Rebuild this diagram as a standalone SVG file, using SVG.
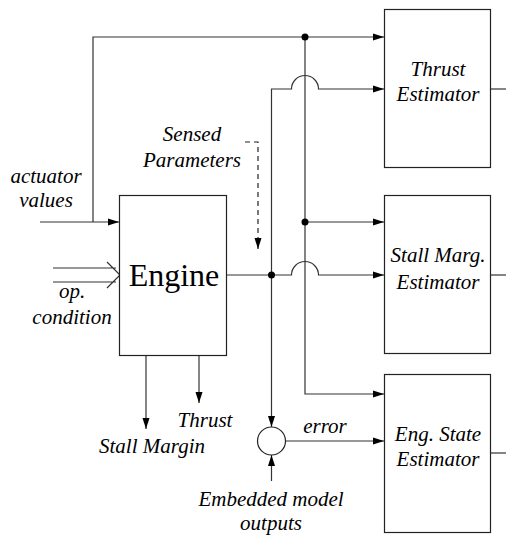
<svg xmlns="http://www.w3.org/2000/svg" width="506" height="536" viewBox="0 0 506 536">
<style>
.box{fill:#fff;stroke:#222;stroke-width:1.2}
.ln{fill:none;stroke:#333;stroke-width:1.2}
.dash{fill:none;stroke:#222;stroke-width:1.2;stroke-dasharray:5,4}
.dot{fill:#000}
.lbl{font-family:"Liberation Serif","Times New Roman",serif;font-style:italic;font-size:21px;fill:#000;text-anchor:middle}
.big{font-family:"Liberation Serif","Times New Roman",serif;font-size:32px;fill:#000;text-anchor:middle}
</style>
<defs>
<marker id="ah" markerUnits="userSpaceOnUse" markerWidth="11" markerHeight="8" refX="11" refY="4" orient="auto">
<path d="M0,0.5 L11,4 L0,7.5 z" fill="#000"/>
</marker>
</defs>
<g id="connectors">
<path class="ln" d="M40 222 H119" marker-end="url(#ah)"/>
<path class="ln" d="M93 222 V37 H384" marker-end="url(#ah)"/>
<path class="ln" d="M305 37 V394 H384" marker-end="url(#ah)"/>
<path class="ln" d="M305 222 H384" marker-end="url(#ah)"/>
<path class="ln" d="M227 275 H291.5 A13.5 13.5 0 0 1 318.5 275 H384" marker-end="url(#ah)"/>
<path class="ln" d="M271.5 275 V89 H291.5 A13.5 13.5 0 0 1 318.5 89 H384" marker-end="url(#ah)"/>
<path class="ln" d="M271.5 275 V427" marker-end="url(#ah)"/>
<path class="ln" d="M271.5 481 V455" marker-end="url(#ah)"/>
<path class="ln" d="M285.5 441 H384" marker-end="url(#ah)"/>
<path class="ln" d="M490 89 H506"/>
<path class="ln" d="M490 275 H506"/>
<path class="ln" d="M490 453 H506"/>
<path class="ln" d="M146 355 V429" marker-end="url(#ah)"/>
<path class="ln" d="M199 355 V403" marker-end="url(#ah)"/>
<path class="ln" d="M53 268 H116 M53 282 H116 M107 262 L120 275 L107 288"/>
<path class="dash" d="M245 142 H258 V249" marker-end="url(#ah)"/>
<circle class="dot" cx="305" cy="37" r="3.5"/>
<circle class="dot" cx="305" cy="222" r="3.5"/>
<circle class="dot" cx="271.5" cy="275" r="3.5"/>
</g>
<g id="engine">
<rect class="box" x="119.5" y="195.5" width="107" height="160"/>
<text class="big" x="174" y="286">Engine</text>
</g>
<g id="thrust-estimator">
<rect class="box" x="384.5" y="9.5" width="106" height="158"/>
<text class="lbl" x="438" y="76">Thrust</text>
<text class="lbl" x="438" y="101">Estimator</text>
</g>
<g id="stall-estimator">
<rect class="box" x="384.5" y="195.5" width="106" height="158"/>
<text class="lbl" x="438" y="262">Stall Marg.</text>
<text class="lbl" x="438" y="289">Estimator</text>
</g>
<g id="state-estimator">
<rect class="box" x="384.5" y="374.5" width="106" height="158"/>
<text class="lbl" x="438" y="441">Eng. State</text>
<text class="lbl" x="438" y="466">Estimator</text>
</g>
<g id="sum">
<circle class="box" cx="271.5" cy="441" r="14"/>
</g>
<g id="labels">
<text class="lbl" x="46" y="183">actuator</text>
<text class="lbl" x="46" y="207">values</text>
<text class="lbl" x="72" y="298">op.</text>
<text class="lbl" x="72" y="324">condition</text>
<text class="lbl" x="192" y="141">Sensed</text>
<text class="lbl" x="192" y="167">Parameters</text>
<text class="lbl" x="205" y="427">Thrust</text>
<text class="lbl" x="152" y="453">Stall Margin</text>
<text class="lbl" x="325" y="433">error</text>
<text class="lbl" x="271" y="506">Embedded model</text>
<text class="lbl" x="271" y="530">outputs</text>
</g>
</svg>
